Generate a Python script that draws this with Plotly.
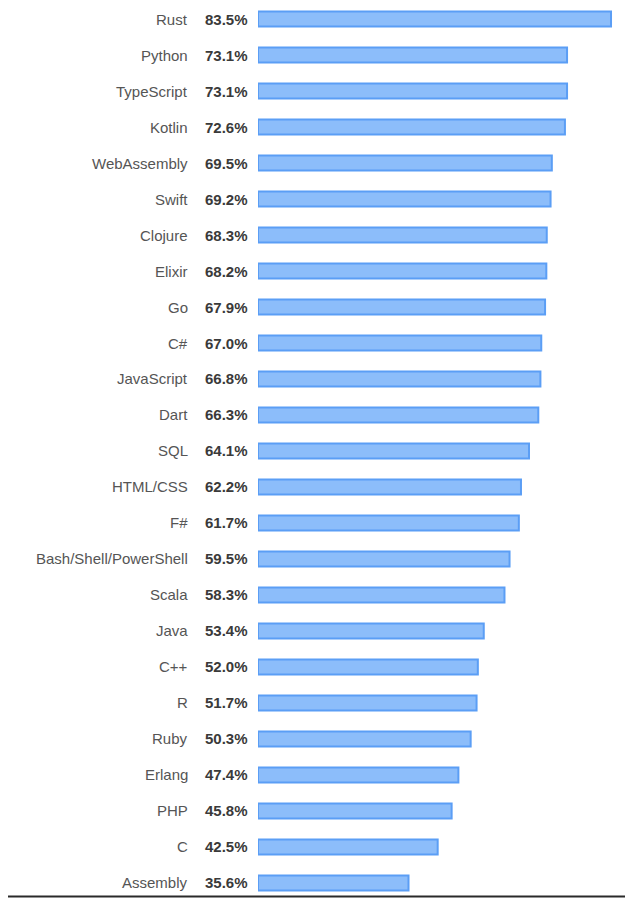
import plotly.graph_objects as go

# most loved languages, share of respondents (%)
languages = [
    "Rust", "Python", "TypeScript", "Kotlin", "WebAssembly", "Swift", "Clojure",
    "Elixir", "Go", "C#", "JavaScript", "Dart", "SQL", "HTML/CSS", "F#",
    "Bash/Shell/PowerShell", "Scala", "Java", "C++", "R", "Ruby", "Erlang",
    "PHP", "C", "Assembly",
]
loved = [
    83.5, 73.1, 73.1, 72.6, 69.5, 69.2, 68.3, 68.2, 67.9, 67.0, 66.8, 66.3,
    64.1, 62.2, 61.7, 59.5, 58.3, 53.4, 52.0, 51.7, 50.3, 47.4, 45.8, 42.5,
    35.6,
]

fig = go.Figure()
fig.add_trace(
    go.Bar(
        x=loved,
        y=languages,
        orientation="h",
        width=0.42,
        marker=dict(color="#8cbdfa", line=dict(color="#5b9ef5", width=2)),
        hoverinfo="skip",
    )
)

# language names and bold percentages to the left of the bars
for lang, val in zip(languages, loved):
    fig.add_annotation(
        x=0, y=lang, xref="paper", yref="y",
        text=lang, showarrow=False, xanchor="right", xshift=-68,
        font=dict(size=15, color="#555555"),
    )
    fig.add_annotation(
        x=0, y=lang, xref="paper", yref="y",
        text=f"<b>{val:.1f}%</b>", showarrow=False, xanchor="right", xshift=-8,
        font=dict(size=15, color="#3a3a3a"),
    )

# thin dark rule along the bottom edge
fig.add_shape(
    type="line", xref="paper", yref="paper",
    x0=-0.667, x1=1.1, y0=0.0106, y1=0.0106,
    line=dict(color="#2a2a2a", width=2),
)

fig.update_layout(
    width=633,
    height=898,
    margin=dict(l=250, r=8, t=0, b=0),
    plot_bgcolor="white",
    paper_bgcolor="white",
    showlegend=False,
    font=dict(family="Liberation Sans, Arial, sans-serif"),
)
fig.update_xaxes(range=[0, 88.7], visible=False)
fig.update_yaxes(range=[24.64, -0.306], visible=False)

fig.write_html("out.html")
